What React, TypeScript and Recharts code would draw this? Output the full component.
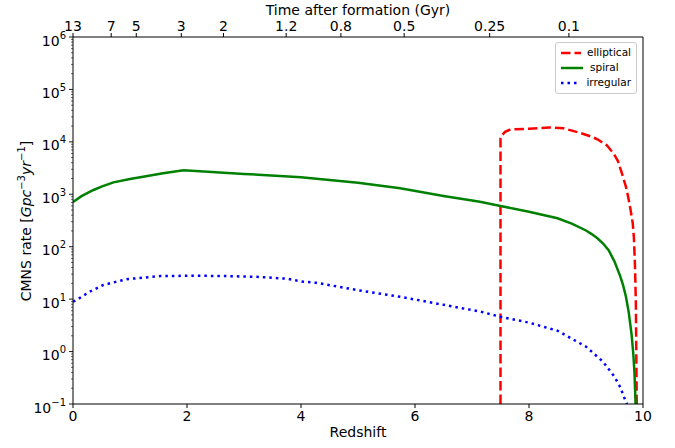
import { LineChart, Line, XAxis, YAxis, Legend, ReferenceLine } from "recharts"

const FONT = "'DejaVu Sans', sans-serif"
const PLOT_LEFT = 73

// redshift samples and CMNS rates (Gpc^-3 yr^-1)
const ellipticalZ = [7.5, 7.5, 7.53, 7.58, 7.65, 7.75, 8.0, 8.35, 8.6, 8.9, 9.1, 9.2, 9.36, 9.48, 9.56, 9.65, 9.7, 9.74, 9.78, 9.82, 9.84, 9.86, 9.875, 9.89]
const ellipticalRate = [0.1, 11700, 13500, 15500, 16800, 17400, 17800, 18800, 18200, 14800, 12500, 11200, 8700, 6100, 4300, 2140, 1400, 890, 520, 280, 150, 41, 8, 0.1]

const spiralZ = [0, 0.15, 0.36, 0.5, 0.71, 1.0, 1.23, 1.58, 1.94, 3.0, 4.0, 5.0, 5.74, 6.5, 7.14, 7.5, 8.0, 8.5, 8.75, 9.0, 9.1, 9.2, 9.3, 9.4, 9.5, 9.6, 9.65, 9.7, 9.75, 9.8, 9.83, 9.85, 9.87]
const spiralRate = [713, 920, 1208, 1400, 1690, 1950, 2160, 2510, 2880, 2450, 2110, 1660, 1300, 930, 722, 598, 466, 348, 275, 204, 174, 145, 115, 85, 52, 27.5, 18.6, 11.2, 5.6, 2.1, 0.9, 0.4, 0.1]

const irregularZ = [0, 0.06, 0.3, 0.53, 0.94, 1.53, 2.1, 2.7, 3.28, 3.75, 4.04, 4.27, 5.0, 5.74, 6.5, 7.14, 7.5, 8.0, 8.5, 9.0, 9.3, 9.5, 9.6, 9.7, 9.72]
const irregularRate = [9.0, 9.6, 14, 18.6, 24, 27.5, 28, 27.5, 26.5, 24.5, 21.5, 20.5, 14.8, 11.1, 7.8, 5.8, 4.6, 3.56, 2.5, 1.24, 0.64, 0.33, 0.21, 0.11, 0.1]

const bottomTicks = [0, 2, 4, 6, 8, 10]
const topTickZ = [0, 0.67, 1.11, 1.9, 2.64, 3.74, 4.7, 5.81, 7.31, 8.7]
const topTickLabels = ["13", "7", "5", "3", "2", "1.2", "0.8", "0.5", "0.25", "0.1"]
const decades = [-1, 0, 1, 2, 3, 4, 5, 6]

const yTicks: number[] = []
decades.forEach((d) => {
  yTicks.push(Math.pow(10, d))
  if (d < 6) [2, 3, 4, 5, 6, 7, 8, 9].forEach((m) => yTicks.push(m * Math.pow(10, d)))
})

const toPoints = (z: number[], r: number[]) => z.map((x, i) => ({ z: x, rate: r[i] }))

const series = [
  { name: "elliptical", color: "#ff0000", dash: "9.5 4", data: toPoints(ellipticalZ, ellipticalRate) },
  { name: "spiral", color: "#008000", dash: undefined, data: toPoints(spiralZ, spiralRate) },
  { name: "irregular", color: "#0000ff", dash: "2.5 4", data: toPoints(irregularZ, irregularRate) },
]

function YTick(props: any) {
  const { y, payload } = props
  const lg = Math.log10(payload.value)
  const exp = Math.round(lg)
  const major = Math.abs(lg - exp) < 1e-6
  return (
    <g>
      <line x1={PLOT_LEFT - (major ? 4 : 2)} x2={PLOT_LEFT} y1={y} y2={y} stroke="#000" strokeWidth={major ? 0.9 : 0.6} />
      {major && (
        <text x={PLOT_LEFT - 7} y={y} dy={8.5} textAnchor="end" fontSize={14} fontFamily={FONT} fill="#000">
          10
          <tspan dy={-7} fontSize={10}>
            {exp < 0 ? `\u2212${-exp}` : String(exp)}
          </tspan>
        </text>
      )}
    </g>
  )
}

function YLabel() {
  return (
    <text transform="translate(31,221) rotate(-90)" textAnchor="middle" fontSize={14} fontFamily={FONT} fill="#000">
      CMNS rate [<tspan fontStyle="italic">Gpc</tspan>
      <tspan dy={-6} fontSize={10}>{"\u22123"}</tspan>
      <tspan dy={6} fontStyle="italic">yr</tspan>
      <tspan dy={-6} fontSize={10}>{"\u22121"}</tspan>
      <tspan dy={6}>]</tspan>
    </text>
  )
}

function LegendBox() {
  return (
    <div
      style={{
        border: "1px solid #cccccc",
        borderRadius: 3,
        background: "rgba(255,255,255,0.8)",
        padding: "2px 5px 3px 4px",
        fontFamily: FONT,
        fontSize: 10.5,
        lineHeight: "15px",
        color: "#000",
      }}
    >
      {series.map((s) => (
        <div key={s.name} style={{ display: "flex", alignItems: "center" }}>
          <svg width={24} height={10} style={{ marginRight: 6 }}>
            <line x1={1} x2={23} y1={5} y2={5} stroke={s.color} strokeWidth={2.5} strokeDasharray={s.dash} />
          </svg>
          <span>{s.name}</span>
        </div>
      ))}
    </div>
  )
}

export default function App() {
  return (
    <div style={{ position: "absolute", left: 0, top: 0, width: 675, height: 448, background: "#fff" }}>
      <LineChart width={675} height={448} margin={{ top: 0, right: 32, bottom: 0, left: 0 }}>
        <XAxis
          dataKey="z"
          type="number"
          domain={[0, 10]}
          ticks={bottomTicks}
          interval={0}
          allowDataOverflow
          height={44}
          tickSize={4}
          tickMargin={3}
          stroke="#000"
          tick={{ fontSize: 14, fontFamily: FONT, fill: "#000" }}
          label={{ value: "Redshift", position: "insideBottom", offset: 11, fontSize: 14, fontFamily: FONT, fill: "#000" }}
        />
        <XAxis
          xAxisId="top"
          dataKey="z"
          orientation="top"
          type="number"
          domain={[0, 10]}
          ticks={topTickZ}
          interval={0}
          allowDataOverflow
          height={37}
          tickSize={4}
          tickMargin={2}
          stroke="#000"
          tickFormatter={(v: number) => topTickLabels[topTickZ.indexOf(v)] ?? ""}
          tick={{ fontSize: 14, fontFamily: FONT, fill: "#000" }}
          label={{ value: "Time after formation (Gyr)", position: "insideTop", offset: 5, fontSize: 14, fontFamily: FONT, fill: "#000" }}
        />
        <YAxis
          type="number"
          scale="log"
          domain={[0.1, 1e6]}
          allowDataOverflow
          ticks={yTicks}
          interval={0}
          width={73}
          stroke="#000"
          tickLine={false}
          tick={<YTick />}
          label={<YLabel />}
        />
        <ReferenceLine x={10} stroke="#000" strokeWidth={1} />
        {/* invisible copy so the top axis has data to scale against */}
        <Line
          xAxisId="top"
          data={series[1].data}
          dataKey="rate"
          stroke="none"
          dot={false}
          activeDot={false}
          legendType="none"
          isAnimationActive={false}
        />
        {series.map((s) => (
          <Line
            key={s.name}
            data={s.data}
            dataKey="rate"
            name={s.name}
            type="linear"
            stroke={s.color}
            strokeWidth={2.5}
            strokeDasharray={s.dash}
            dot={false}
            activeDot={false}
            isAnimationActive={false}
          />
        ))}
        <Legend
          layout="vertical"
          align="center"
          verticalAlign="middle"
          wrapperStyle={{ top: 42, left: 555, width: 82 }}
          content={() => <LegendBox />}
        />
      </LineChart>
    </div>
  )
}
